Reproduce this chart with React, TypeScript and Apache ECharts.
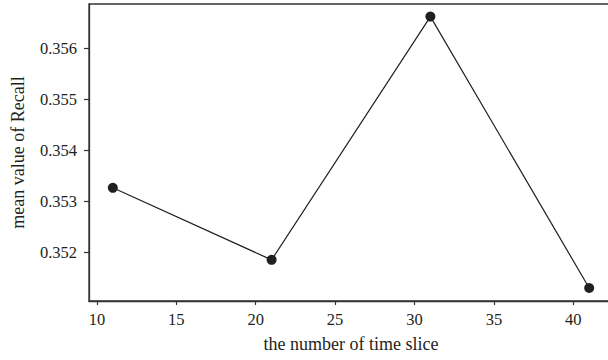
import React, { useEffect, useRef } from "react";
import * as echarts from "echarts";

const timeSlices = [11, 21, 31, 41];
const recallMeans = [0.35327, 0.35186, 0.35662, 0.35131];
const xTicks = [10, 15, 20, 25, 30, 35, 40];
const yTicks = [0.352, 0.353, 0.354, 0.355, 0.356];

const FONT = "'Liberation Serif', 'DejaVu Serif', serif";

export default function App() {
  const ref = useRef<HTMLDivElement>(null);
  useEffect(() => {
    if (!ref.current) return;
    const chart = echarts.init(ref.current, undefined, { renderer: "svg" });
    chart.setOption({
      animation: false,
      backgroundColor: "#ffffff",
      grid: {
        left: 89,
        top: 4,
        height: 297,
        width: 524,
        show: true,
        borderColor: "#333333",
        borderWidth: 1.3,
        backgroundColor: "transparent",
      },
      xAxis: {
        type: "value",
        min: 9.5,
        max: 42.5,
        name: "the number of time slice",
        nameLocation: "middle",
        nameGap: 34,
        nameTextStyle: { fontFamily: FONT, fontSize: 18, color: "#231f20" },
        axisLine: { show: true, lineStyle: { color: "#333333", width: 1.3 } },
        axisTick: { show: true, length: 4, inside: false, customValues: xTicks, lineStyle: { color: "#333333", width: 1.2 } },
        axisLabel: {
          customValues: xTicks,
          margin: 10,
          fontFamily: FONT,
          fontSize: 16.5,
          color: "#231f20",
          formatter: (v: number) => String(v),
        },
        splitLine: { show: false },
      },
      yAxis: {
        type: "value",
        min: 0.351055,
        max: 0.356867,
        name: "mean value of Recall",
        nameLocation: "middle",
        nameGap: 62,
        nameTextStyle: { fontFamily: FONT, fontSize: 18, color: "#231f20" },
        axisLine: { show: true, lineStyle: { color: "#333333", width: 1.3 } },
        axisTick: { show: true, length: 5, inside: false, customValues: yTicks, lineStyle: { color: "#333333", width: 1.2 } },
        axisLabel: {
          customValues: yTicks,
          margin: 12,
          fontFamily: FONT,
          fontSize: 16.5,
          color: "#231f20",
          formatter: (v: number) => v.toFixed(3),
        },
        splitLine: { show: false },
      },
      series: [
        {
          type: "line",
          data: timeSlices.map((x, i) => [x, recallMeans[i]]),
          symbol: "circle",
          symbolSize: 10,
          lineStyle: { color: "#231f20", width: 1.2 },
          itemStyle: { color: "#231f20" },
        },
      ],
    });
    return () => chart.dispose();
  }, []);
  return (
    <div
      ref={ref}
      style={{ position: "fixed", left: 0, top: 0, width: 640, height: 360 }}
    />
  );
}
